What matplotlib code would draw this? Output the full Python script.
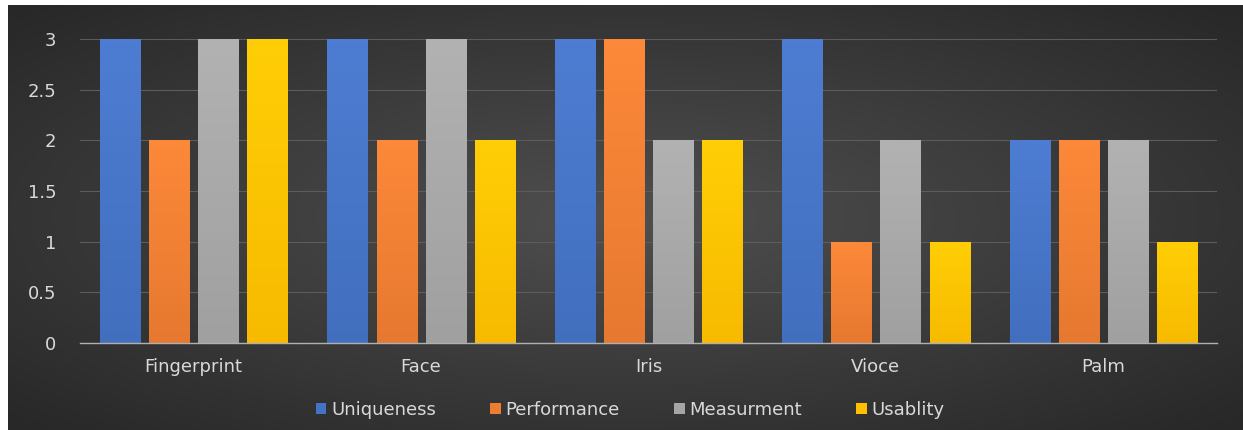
import numpy as np
import matplotlib
matplotlib.use("Agg")
import matplotlib.pyplot as plt
from matplotlib.patches import Patch
from matplotlib.colors import to_rgb

categories = ["Fingerprint", "Face", "Iris", "Vioce", "Palm"]
series_names = ["Uniqueness", "Performance", "Measurment", "Usablity"]
uniqueness = [3, 3, 3, 3, 2]
performance = [2, 2, 3, 1, 2]
measurment = [3, 3, 2, 2, 2]
usablity = [3, 2, 2, 1, 1]
y_ticks = [0, 0.5, 1, 1.5, 2, 2.5, 3]
y_tick_labels = ["0", "0.5", "1", "1.5", "2", "2.5", "3"]

colors = ["#4472C4", "#ED7D31", "#A5A5A5", "#FFC000"]
values = [uniqueness, performance, measurment, usablity]

plt.rcParams['font.family'] = ['DejaVu Sans']

W, H = 1243, 430
fig = plt.figure(figsize=(W / 100, H / 100), dpi=100)
fig.patch.set_facecolor("white")

# background with radial gradient
bg = fig.add_axes([8 / W, 0, 1 - 8 / W, 1 - 5 / H], zorder=0)
yy, xx = np.mgrid[-1:1:200j, -1:1:500j]
r = np.sqrt(xx ** 2 + yy ** 2)
g = np.clip(0.31 - 0.11 * r, 0.16, 0.32)
img = np.dstack([g, g, g])
bg.imshow(img, aspect="auto", extent=[0, 1, 0, 1], interpolation="bilinear")
bg.set_axis_off()

ax = fig.add_axes([80 / W, 1 - 343 / H, (1217 - 80) / W, (343 - 39) / H], zorder=1)
ax.patch.set_alpha(0)

x = np.arange(len(categories))
bw = 0.176
step = 0.216
for i, (vals, c, name) in enumerate(zip(values, colors, series_names)):
    bars = ax.bar(x + (i - 1.5) * step, vals, width=bw, color=c, label=name, zorder=3)
    base = np.array(to_rgb(c))
    top = np.clip(base * 1.04 + 0.025, 0, 1)
    bot = np.clip(base * 0.97, 0, 1)
    t = np.linspace(0, 1, 64)[:, None]
    grad = top[None, :] * (1 - t) + bot[None, :] * t
    grad = grad[:, None, :]
    for b in bars:
        bx, by = b.get_x(), b.get_y()
        im = ax.imshow(grad, aspect="auto", extent=[bx, bx + b.get_width(), by, by + b.get_height()],
                       zorder=3.5, interpolation="bilinear")
        im.set_clip_path(b)

ax.set_xlim(-0.5, len(categories) - 0.5)
ax.set_ylim(0, 3)
ax.set_aspect("auto")
ax.set_yticks(y_ticks)
ax.set_yticklabels(y_tick_labels)
ax.set_xticks(x)
ax.set_xticklabels(categories)
ax.tick_params(axis="y", length=0, pad=17, labelsize=13, labelcolor="#d9d9d9")
ax.tick_params(axis="x", length=0, pad=11, labelsize=13, labelcolor="#d9d9d9")
ax.grid(axis="y", color="#5c5c5c", linewidth=0.8, zorder=0)
ax.set_axisbelow(True)
for s in ["top", "right", "left"]:
    ax.spines[s].set_visible(False)
ax.spines["bottom"].set_color("#b0b0b0")
ax.spines["bottom"].set_linewidth(1.0)
ax.spines["bottom"].set_zorder(4)

handles = [Patch(facecolor=c, label=n) for c, n in zip(colors, series_names)]
leg = fig.legend(handles=handles, loc="center", bbox_to_anchor=(630 / W, 1 - 410 / H),
                 ncol=4, frameon=False, fontsize=13, handlelength=0.6, handleheight=0.6,
                 handletextpad=0.25, columnspacing=3.0, labelcolor="#d9d9d9")

fig.savefig("out.png", dpi=100, facecolor="white")
